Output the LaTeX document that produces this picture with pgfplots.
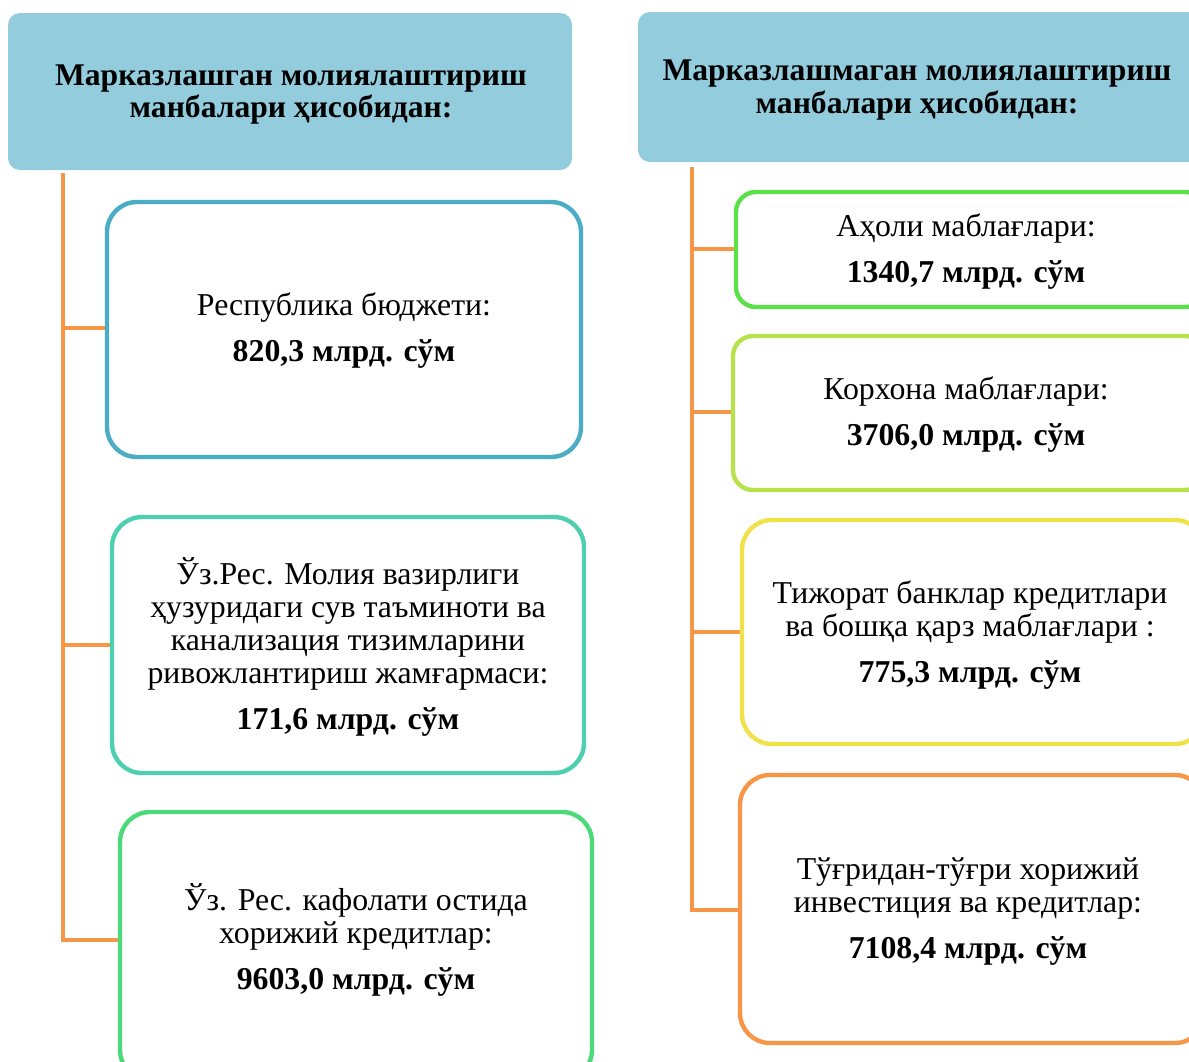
\documentclass[border=0pt]{standalone}
\usepackage{fontspec}
\setmainfont{Liberation Serif}
\usepackage{pgfplots}
\pgfplotsset{compat=1.18}
\definecolor{hdr}{HTML}{93CDDD}
\definecolor{org}{HTML}{F79646}
\definecolor{cA}{HTML}{4BACC6}
\definecolor{cB}{HTML}{4DCFB0}
\definecolor{cC}{HTML}{4CD979}
\definecolor{rA}{HTML}{5CE04A}
\definecolor{rB}{HTML}{B6E34B}
\definecolor{rC}{HTML}{F0E24A}
\begin{document}
\begin{tikzpicture}
\begin{axis}[
  width=594.5pt, height=530.5pt, scale only axis,
  xmin=0, xmax=1189, ymin=0, ymax=1061, y dir=reverse,
  hide axis, clip=true]
\addplot[draw=none] coordinates {(0,0) (1189,1061)};
% headers
\fill[hdr, rounded corners=6pt] (axis cs:8,13) rectangle (axis cs:572,170);
\fill[hdr, rounded corners=6pt] (axis cs:638,12) rectangle (axis cs:1200,162);
\node[align=center, font=\fontsize{15.8}{16}\selectfont\bfseries] at (axis cs:291,95) {Марказлашган молиялаштириш\\манбалари ҳисобидан:};
\node[align=center, font=\fontsize{15.8}{16.5}\selectfont\bfseries] at (axis cs:917,90) {Марказлашмаган молиялаштириш\\манбалари ҳисобидан:};
% connector lines left
\draw[org, line width=2pt] (axis cs:63,173) -- (axis cs:63,940) -- (axis cs:120,940);
\draw[org, line width=2pt] (axis cs:63,328) -- (axis cs:107,328);
\draw[org, line width=2pt] (axis cs:63,645) -- (axis cs:112,645);
% connector lines right
\draw[org, line width=2pt] (axis cs:692,167) -- (axis cs:692,910) -- (axis cs:740,910);
\draw[org, line width=2pt] (axis cs:692,249) -- (axis cs:736,249);
\draw[org, line width=2pt] (axis cs:692,412) -- (axis cs:733,412);
\draw[org, line width=2pt] (axis cs:692,632) -- (axis cs:742,632);
% left boxes
\draw[cA, line width=2.2pt, fill=white, rounded corners=15pt] (axis cs:107,202) rectangle (axis cs:581,457);
\draw[cB, line width=2.2pt, fill=white, rounded corners=15pt] (axis cs:112,517) rectangle (axis cs:584,773);
\draw[cC, line width=2.2pt, fill=white, rounded corners=15pt] (axis cs:120,812) rectangle (axis cs:592,1080);
% right boxes
\draw[rA, line width=2.2pt, fill=white, rounded corners=10pt] (axis cs:736,192) rectangle (axis cs:1205,307);
\draw[rB, line width=2.2pt, fill=white, rounded corners=10pt] (axis cs:733,336) rectangle (axis cs:1205,490);
\draw[rC, line width=2.2pt, fill=white, rounded corners=15pt] (axis cs:742,520) rectangle (axis cs:1205,744);
\draw[org, line width=2.2pt, fill=white, rounded corners=15pt] (axis cs:740,775) rectangle (axis cs:1205,1043);
% texts
\tikzset{bt/.style={align=center, font=\fontsize{15.9}{16.5}\selectfont}}
\node[bt] at (axis cs:344,331) {Республика бюджети:\\[6.5pt]\textbf{820,3 млрд. сўм}};
\node[bt] at (axis cs:348,647) {Ўз.Рес. Молия вазирлиги\\ҳузуридаги сув таъминоти ва\\канализация тизимларини\\ривожлантириш жамғармаси:\\[6.5pt]\textbf{171,6 млрд. сўм}};
\node[bt] at (axis cs:356,940) {Ўз. Рес. кафолати остида\\хорижий кредитлар:\\[6.5pt]\textbf{9603,0 млрд. сўм}};
\node[bt] at (axis cs:966,252) {Аҳоли маблағлари:\\[6.5pt]\textbf{1340,7 млрд. сўм}};
\node[bt] at (axis cs:966,415) {Корхона маблағлари:\\[6.5pt]\textbf{3706,0 млрд. сўм}};
\node[bt] at (axis cs:970,635) {Тижорат банклар кредитлари\\ва бошқа қарз маблағлари :\\[6.5pt]\textbf{775,3 млрд. сўм}};
\node[bt] at (axis cs:968,912) {Тўғридан-тўғри хорижий\\инвестиция ва кредитлар:\\[6.5pt]\textbf{7108,4 млрд. сўм}};
\end{axis}
\pgfresetboundingbox
\useasboundingbox (current axis.south west) rectangle (current axis.north east);
\end{tikzpicture}
\end{document}
